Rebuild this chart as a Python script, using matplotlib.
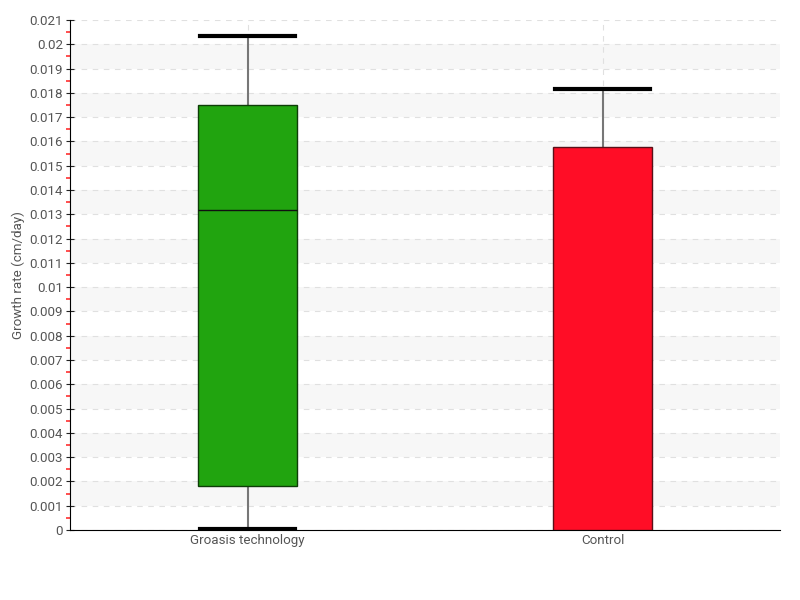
import matplotlib
matplotlib.use("Agg")
import matplotlib.pyplot as plt
from matplotlib.ticker import MultipleLocator
import numpy as np

categories = ["Groasis technology", "Control"]
whislo = [0.00004, 0.0]
q1 = [0.00181, 0.0]
med = [0.01317, 0.0]
q3 = [0.0175, 0.01577]
whishi = [0.02034, 0.01814]
colors = ["#21a40f", "#ff0d26"]
edge_colors = ["#0e3d08", "#5a1018"]
yticks = [round(i * 0.001, 3) for i in range(22)]

plt.rcParams['font.family'] = ['Roboto', 'DejaVu Sans']

fig = plt.figure(figsize=(8, 6), dpi=100)
ax = fig.add_axes([0.0875, 0.1167, 0.8875, 0.85])

# alternating bands
for i in range(1, 21, 2):
    ax.axhspan(i * 0.001, (i + 1) * 0.001, color="#f7f7f7", zorder=0, lw=0)

stats = []
for i, c in enumerate(categories):
    stats.append(dict(label=c, whislo=whislo[i], q1=q1[i], med=med[i],
                      q3=q3[i], whishi=whishi[i], fliers=[]))

bp = ax.bxp(stats, positions=range(len(categories)), widths=0.28,
            patch_artist=True, showfliers=False,
            whiskerprops=dict(color="#777777", lw=1.5),
            capprops=dict(color="black", lw=3),
            medianprops=dict(color="#111111", lw=1),
            capwidths=0.27)
for patch, fc, ec in zip(bp['boxes'], colors, edge_colors):
    patch.set_facecolor(fc)
    patch.set_edgecolor(ec)
    patch.set_linewidth(1)
    patch.set_zorder(3)
for w in bp['whiskers']:
    w.set_zorder(2)
for c in bp['caps']:
    c.set_zorder(4)
for m in bp['medians']:
    m.set_zorder(4)
# Control's lower cap/median coincide with the axis line in the reference
bp['caps'][2].set_visible(False)
bp['medians'][1].set_visible(False)

ax.set_xlim(-0.5, 1.5)
ax.set_ylim(0, 0.021)
ax.set_yticks(yticks)
ax.set_yticklabels([("%g" % t) if t != 0 else "0" for t in yticks])
ax.yaxis.set_minor_locator(MultipleLocator(0.0005))
ax.tick_params(axis='y', which='major', direction='inout', length=6, color="#222222",
               labelsize=9.6, labelcolor="#555555", pad=2)
ax.tick_params(axis='y', which='minor', direction='out', length=3, width=1.2, color="#ff3030")
ax.tick_params(axis='x', length=0, labelsize=9.6, labelcolor="#555555", pad=3)
ax.set_xticks(range(len(categories)))
ax.set_xticklabels(categories)

ax.grid(True, axis='y', which='major', color="#e0e0e0", ls=(0, (5, 5)), lw=0.8)
ax.grid(True, axis='x', which='major', color="#e0e0e0", ls=(0, (5, 5)), lw=0.8)
ax.set_axisbelow(True)

for s in ["top", "right"]:
    ax.spines[s].set_visible(False)
ax.spines["left"].set_color("black")
ax.spines["bottom"].set_color("black")

ax.set_ylabel("Growth rate (cm/day)", fontsize=9.6, color="#555555", labelpad=3)

fig.savefig("out.png", dpi=100)
